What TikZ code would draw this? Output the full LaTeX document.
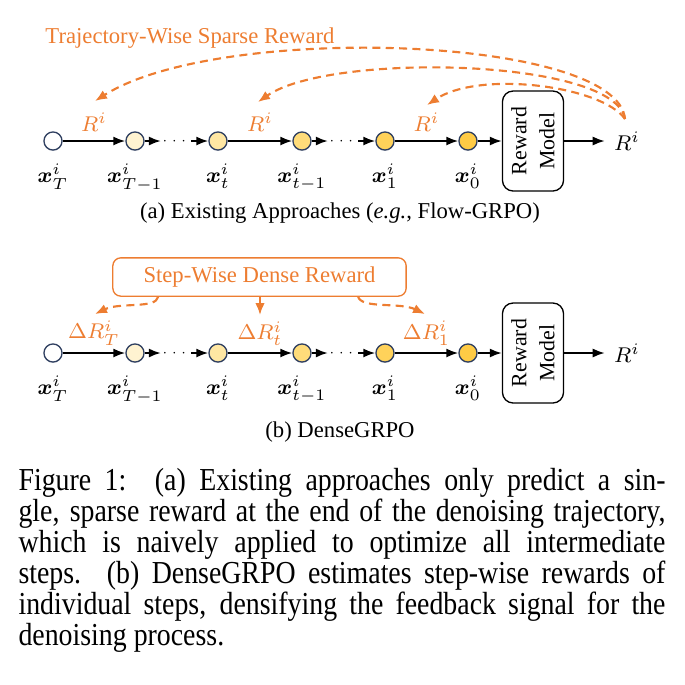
\documentclass[tikz,border=0pt]{standalone}
\usepackage{amsmath}
\usepackage{bm}
\usepackage{fontspec}
\setmainfont{Liberation Serif}
\newfontfamily\capfont[FakeStretch=0.87]{Liberation Serif}
\usetikzlibrary{arrows.meta}

\definecolor{rwdorange}{HTML}{ED7D31}
\definecolor{stateline}{HTML}{2F3F60}
\definecolor{stepA}{HTML}{FFF3D1}
\definecolor{stepB}{HTML}{FFE7A3}
\definecolor{stepC}{HTML}{FFDC7A}
\definecolor{stepD}{HTML}{FFD25A}
\definecolor{stepE}{HTML}{FFCB45}

\begin{document}
\begin{tikzpicture}[x=0.375pt, y=-0.375pt,
  font=\fontsize{8.5}{10}\selectfont,
  state/.style={circle, draw=stateline, line width=0.5pt, minimum size=6.8pt, inner sep=0pt},
  flow/.style={-{Latex[length=4.5pt,width=3.4pt]}, line width=0.7pt},
  dots/.style={inner sep=0.2pt, font=\fontsize{4.5}{5}\selectfont},
  rwd/.style={text=rwdorange},
  back/.style={-{Latex[length=4.5pt,width=3.6pt]}, draw=rwdorange, line width=0.8pt, dash pattern=on 3pt off 2pt},
  model/.style={draw, rounded corners=4pt, line width=0.5pt, minimum width=22.9pt, minimum height=37.5pt},
  lab/.style={label distance=1.5pt}]
\useasboundingbox (0,0) rectangle (685,685);

% (a) existing approaches
\node[rwd] (titlea) at (190,38) {Trajectory-Wise Sparse Reward};
\node[state, fill=white, label={[lab]below:$\bm{x}^i_T$}] (a0) at (53,141) {};
\node[state, fill=stepA, label={[lab]below:$\bm{x}^i_{T-1}$}] (a1) at (135,141) {};
\node[state, fill=stepB, label={[lab]below:$\bm{x}^i_t$}] (a2) at (218,141) {};
\node[state, fill=stepC, label={[lab]below:$\bm{x}^i_{t-1}$}] (a3) at (302,141) {};
\node[state, fill=stepD, label={[lab]below:$\bm{x}^i_1$}] (a4) at (385,141) {};
\node[state, fill=stepE, label={[lab]below:$\bm{x}^i_0$}] (a5) at (468,141) {};
\node[dots] (da1) at (176,141) {$\cdots$};
\node[dots] (da2) at (343,141) {$\cdots$};
\node[model] (rma) at (533,141) {};
\node[rotate=90, align=center, font=\fontsize{8.2}{10.5}\selectfont] (rmta) at (rma) {Reward\\Model};
\node (outa) at (627,141) {$R^i$};
\coordinate (srca) at (625,119);
\coordinate (tipa0) at (95,101);
\coordinate (tipa2) at (258,102);
\coordinate (tipa4) at (427,105);

\draw[flow] (a0) -- node[midway, above=0pt, rwd] (ra0) {$R^i$} (a1);
\draw[flow] (a1) -- (da1);
\draw[flow] (da1) -- (a2);
\draw[flow] (a2) -- node[midway, above=0pt, rwd] (ra2) {$R^i$} (a3);
\draw[flow] (a3) -- (da2);
\draw[flow] (da2) -- (a4);
\draw[flow] (a4) -- node[midway, above=0pt, rwd] (ra4) {$R^i$} (a5);
\draw[flow] (a5) -- (rma);
\draw[flow] (rma) -- (outa);

\draw[back] (srca) .. controls (618,36) and (220,22) .. (tipa0);
\draw[back] (srca) .. controls (615,58) and (330,52) .. (tipa2);
\draw[back] (srca) .. controls (602,86) and (480,70) .. (tipa4);

\node (capa) at (340,213) {(a) Existing Approaches (\textit{e.g.}, Flow-GRPO)};

% (b) DenseGRPO
\node[draw=rwdorange, rwd, rounded corners=3pt, line width=0.5pt, minimum width=110pt, minimum height=13.5pt] (dense) at (259.5,277) {Step-Wise Dense Reward};
\node[state, fill=white, label={[lab]below:$\bm{x}^i_T$}] (b0) at (53,353) {};
\node[state, fill=stepA, label={[lab]below:$\bm{x}^i_{T-1}$}] (b1) at (135,353) {};
\node[state, fill=stepB, label={[lab]below:$\bm{x}^i_t$}] (b2) at (218,353) {};
\node[state, fill=stepC, label={[lab]below:$\bm{x}^i_{t-1}$}] (b3) at (302,353) {};
\node[state, fill=stepD, label={[lab]below:$\bm{x}^i_1$}] (b4) at (385,353) {};
\node[state, fill=stepE, label={[lab]below:$\bm{x}^i_0$}] (b5) at (468,353) {};
\node[dots] (db1) at (176,353) {$\cdots$};
\node[dots] (db2) at (343,353) {$\cdots$};
\node[model] (rmb) at (533,353) {};
\node[rotate=90, align=center, font=\fontsize{8.2}{10.5}\selectfont] (rmtb) at (rmb) {Reward\\Model};
\node (outb) at (627,353) {$R^i$};
\coordinate (tipb0) at (95,314);
\coordinate (tipb2) at (260,315);
\coordinate (tipb4) at (425,314);

\draw[flow] (b0) -- node[midway, above=-1pt, rwd] (rb0) {$\Delta R^i_T$} (b1);
\draw[flow] (b1) -- (db1);
\draw[flow] (db1) -- (b2);
\draw[flow] (b2) -- node[midway, above=-1pt, rwd] (rb2) {$\Delta R^i_t$} (b3);
\draw[flow] (b3) -- (db2);
\draw[flow] (db2) -- (b4);
\draw[flow] (b4) -- node[midway, above=-1pt, rwd] (rb4) {$\Delta R^i_1$} (b5);
\draw[flow] (b5) -- (rmb);
\draw[flow] (rmb) -- (outb);

\draw[back] ([xshift=-38pt]dense.south) .. controls (156,309) and (120,302) .. (tipb0);
\draw[back, dash pattern=] (dense.south -| tipb2) -- (tipb2);
\draw[back] ([xshift=37pt]dense.south) .. controls (362,309) and (400,302) .. (tipb4);

\node (capb) at (340,432) {(b) DenseGRPO};

% caption
\node[anchor=north west, inner sep=0pt, text width=242.6pt, align=justify,
      font=\capfont\fontsize{12}{11.6}\selectfont] (caption) at (18,468)
  {Figure 1:\hspace{0.2em} (a) Existing approaches only predict a sin-\linebreak
   gle, sparse reward at the end of the denoising trajectory,\linebreak
   which is naively applied to optimize all intermediate\linebreak
   steps. (b) DenseGRPO estimates step-wise rewards of\linebreak
   individual steps, densifying the feedback signal for the\linebreak
   denoising process.};
\end{tikzpicture}
\end{document}
